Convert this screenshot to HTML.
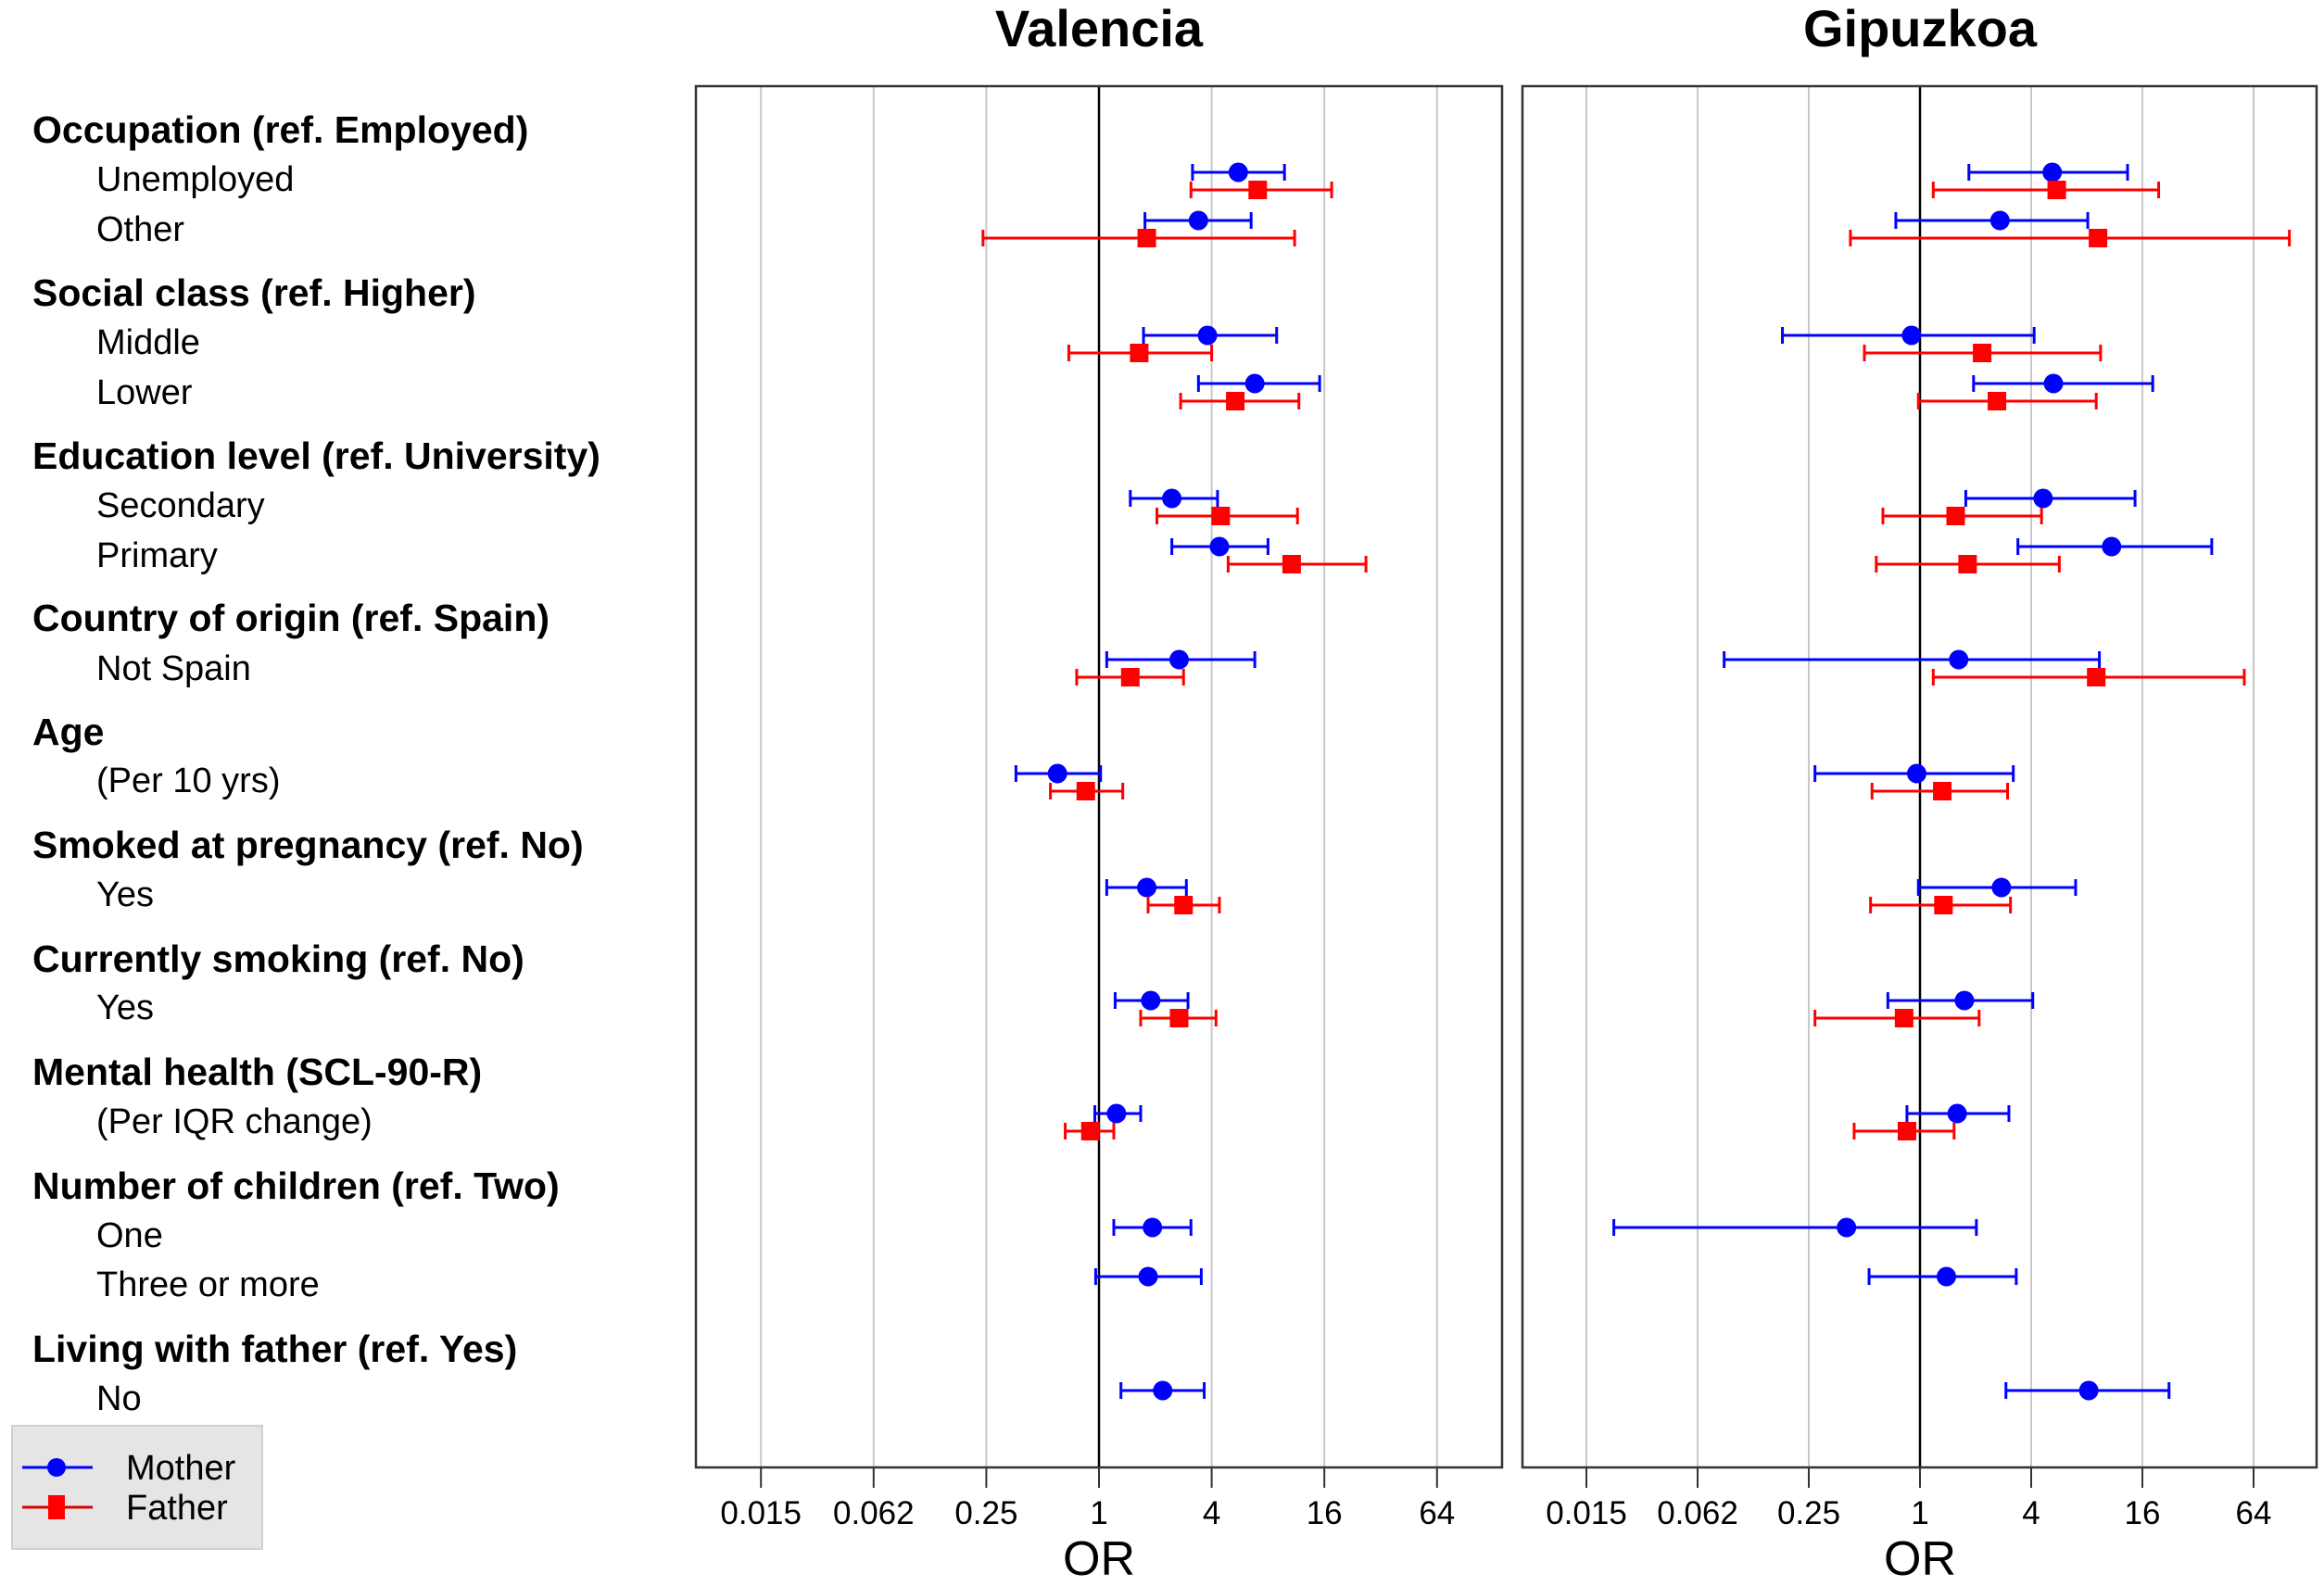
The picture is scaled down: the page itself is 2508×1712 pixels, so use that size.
<!DOCTYPE html>
<html><head><meta charset="utf-8"><style>
html,body{margin:0;padding:0;background:#fff;}
svg{display:block;font-family:"Liberation Sans",Arial,sans-serif;}
</style></head><body>
<svg id="chart" width="2508" height="1712" viewBox="0 0 2508 1712" xmlns="http://www.w3.org/2000/svg"></svg>
<script>
// ---- data ----
const headers = ["Occupation (ref. Employed)","Social class (ref. Higher)","Education level (ref. University)","Country of origin (ref. Spain)","Age","Smoked at pregnancy (ref. No)","Currently smoking (ref. No)","Mental health (SCL-90-R)","Number of children (ref. Two)","Living with father (ref. Yes)"];
const headerY = [154,330,506,681,804,926,1049,1171,1294,1470];
const categories = ["Unemployed","Other","Middle","Lower","Secondary","Primary","Not Spain","(Per 10 yrs)","Yes","Yes","(Per IQR change)","One","Three or more","No"];
const categoryY = [206,260,382,436,558,612,734,855,978,1100,1223,1346,1399,1522];
const tickValues = [0.015625,0.0625,0.25,1,4,16,64];
const tickLabels = ["0.015","0.062","0.25","1","4","16","64"];
// Valencia
const valMotherOR = [5.55,3.4,3.8,6.8,2.45,4.4,2.68,0.6,1.8,1.89,1.24,1.93,1.83,2.19];
const valMotherLo = [3.16,1.76,1.73,3.4,1.47,2.45,1.1,0.36,1.1,1.22,0.95,1.2,0.96,1.31];
const valMotherHi = [9.8,6.5,8.9,15.1,4.3,8,6.8,1.02,2.93,2.99,1.67,3.1,3.52,3.65];
const valFatherOR = [7.05,1.8,1.64,5.35,4.47,10.7,1.47,0.85,2.83,2.68,0.9,null,null,null];
const valFatherLo = [3.1,0.24,0.69,2.73,2.04,4.9,0.76,0.55,1.83,1.67,0.66,null,null,null];
const valFatherHi = [17.5,11.1,4.0,11.7,11.5,26.7,2.83,1.34,4.4,4.22,1.2,null,null,null];
// Gipuzkoa
const gipMotherOR = [5.2,2.71,0.9,5.28,4.64,10.9,1.62,0.96,2.76,1.74,1.59,0.4,1.39,8.2];
const gipMotherLo = [1.84,0.74,0.18,1.95,1.77,3.39,0.087,0.27,0.98,0.67,0.85,0.022,0.53,2.92];
const gipMotherHi = [13.3,8.1,4.15,18.2,14.6,38,9.36,3.2,6.96,4.08,3.03,2.02,3.32,22.3];
const gipFatherOR = [5.5,9.2,2.17,2.61,1.56,1.81,9.0,1.32,1.34,0.82,0.85,null,null,null];
const gipFatherLo = [1.18,0.42,0.5,0.98,0.63,0.58,1.18,0.55,0.54,0.27,0.44,null,null,null];
const gipFatherHi = [19.6,100,9.5,9.0,4.55,5.68,57,2.98,3.09,2.09,1.53,null,null,null];

const NS="http://www.w3.org/2000/svg";
const svg=document.getElementById('chart');
function mk(tag,attrs,parent){const e=document.createElementNS(NS,tag);for(const k in attrs)e.setAttribute(k,attrs[k]);(parent||svg).appendChild(e);return e;}

// labels
headers.forEach((h,i)=>{
  const t=mk('text',{x:35,y:headerY[i],'font-size':41,'font-weight':'bold',fill:'#000'});
  
  
  t.textContent=h;
});
categories.forEach((c,i)=>{
  const t=mk('text',{x:104,y:categoryY[i],'font-size':38,fill:'#000'});
  
  
  t.textContent=c;
});

const rowY=[186,238,362,414,538,590,712,835,958,1080,1202,1325,1378,1501];
const FOFF=19;
function panel(name,left,right,oneX,unit,mOR,mLo,mHi,fOR,fLo,fHi){
  const top=93,bottom=1584;
  const g=mk('g',{});
  
  
  const xs=v=>oneX+unit*Math.log(v)/Math.log(4);
  tickValues.forEach((v,i)=>{
    if(v!==1){const gl=mk('line',{x1:xs(v),x2:xs(v),y1:top,y2:bottom,stroke:'#c8c8c8','stroke-width':2},g);
    
    }
    const tk=mk('line',{x1:xs(v),x2:xs(v),y1:bottom,y2:bottom+22,stroke:'#333','stroke-width':2},g);
    
    
    const tl=mk('text',{x:xs(v),y:1645,'font-size':35,'text-anchor':'middle',fill:'#000'},g);
    
    
    tl.textContent=tickLabels[i];
  });
  const ref=mk('line',{x1:xs(1),x2:xs(1),y1:top,y2:bottom,stroke:'#000','stroke-width':2.5},g);
  
  
  const fr=mk('rect',{x:left,y:top,width:right-left,height:bottom-top,fill:'none',stroke:'#333','stroke-width':2.5},g);
  
  
  function series(OR,Lo,Hi,col,off,shape){
    OR.forEach((v,i)=>{
      if(v==null)return;
      const y=rowY[i]+off;
      const a=xs(Lo[i]),b=xs(Hi[i]),c=xs(v);
      const ln=mk('line',{x1:a,x2:b,y1:y,y2:y,stroke:col,'stroke-width':3},g);
      
      
      [a,b].forEach(xx=>{const cap=mk('line',{x1:xx,x2:xx,y1:y-9,y2:y+9,stroke:col,'stroke-width':3},g);
        
        });
      let p;
      if(shape==='c'){p=mk('circle',{cx:c,cy:y,r:10.5,fill:col},g);}
      else{p=mk('rect',{x:c-10,y:y-10,width:20,height:20,fill:col},g);}
      
    });
  }
  series(mOR,mLo,mHi,'#0000ff',0,'c');
  series(fOR,fLo,fHi,'#ff0000',FOFF,'s');
  const ttl=mk('text',{x:xs(1),y:50,'font-size':56,'font-weight':'bold','text-anchor':'middle',fill:'#000'},g);
  
  
  ttl.textContent=name==='valencia'?'Valencia':'Gipuzkoa';
  const xt=mk('text',{x:xs(1),y:1700,'font-size':52,'text-anchor':'middle',fill:'#000'},g);
  
  
  xt.textContent='OR';
}
panel('valencia',751,1621,1186,121.6,valMotherOR,valMotherLo,valMotherHi,valFatherOR,valFatherLo,valFatherHi);
panel('gipuzkoa',1643,2500,2072,120,gipMotherOR,gipMotherLo,gipMotherHi,gipFatherOR,gipFatherLo,gipFatherHi);

// legend
const lg=mk('g',{});


mk('rect',{x:13,y:1539,width:270,height:133,fill:'#e5e5e5',stroke:'#d0d0d0','stroke-width':2},lg);
[['Mother','#0000ff',1584,'c'],['Father','#dd0000',1627,'s']].forEach(e=>{
  const it=mk('g',{},lg);
  
  
  mk('line',{x1:24,x2:100,y1:e[2],y2:e[2],stroke:e[1],'stroke-width':3},it);
  if(e[3]==='c')mk('circle',{cx:61,cy:e[2],r:10,fill:'#0000ff'},it);
  else mk('rect',{x:52,y:e[2]-13,width:18,height:26,fill:'#ff0000'},it);
  const t=mk('text',{x:136,y:e[2]+13,'font-size':38,fill:'#000'},it);
  t.textContent=e[0];
});
</script>
</body></html>
